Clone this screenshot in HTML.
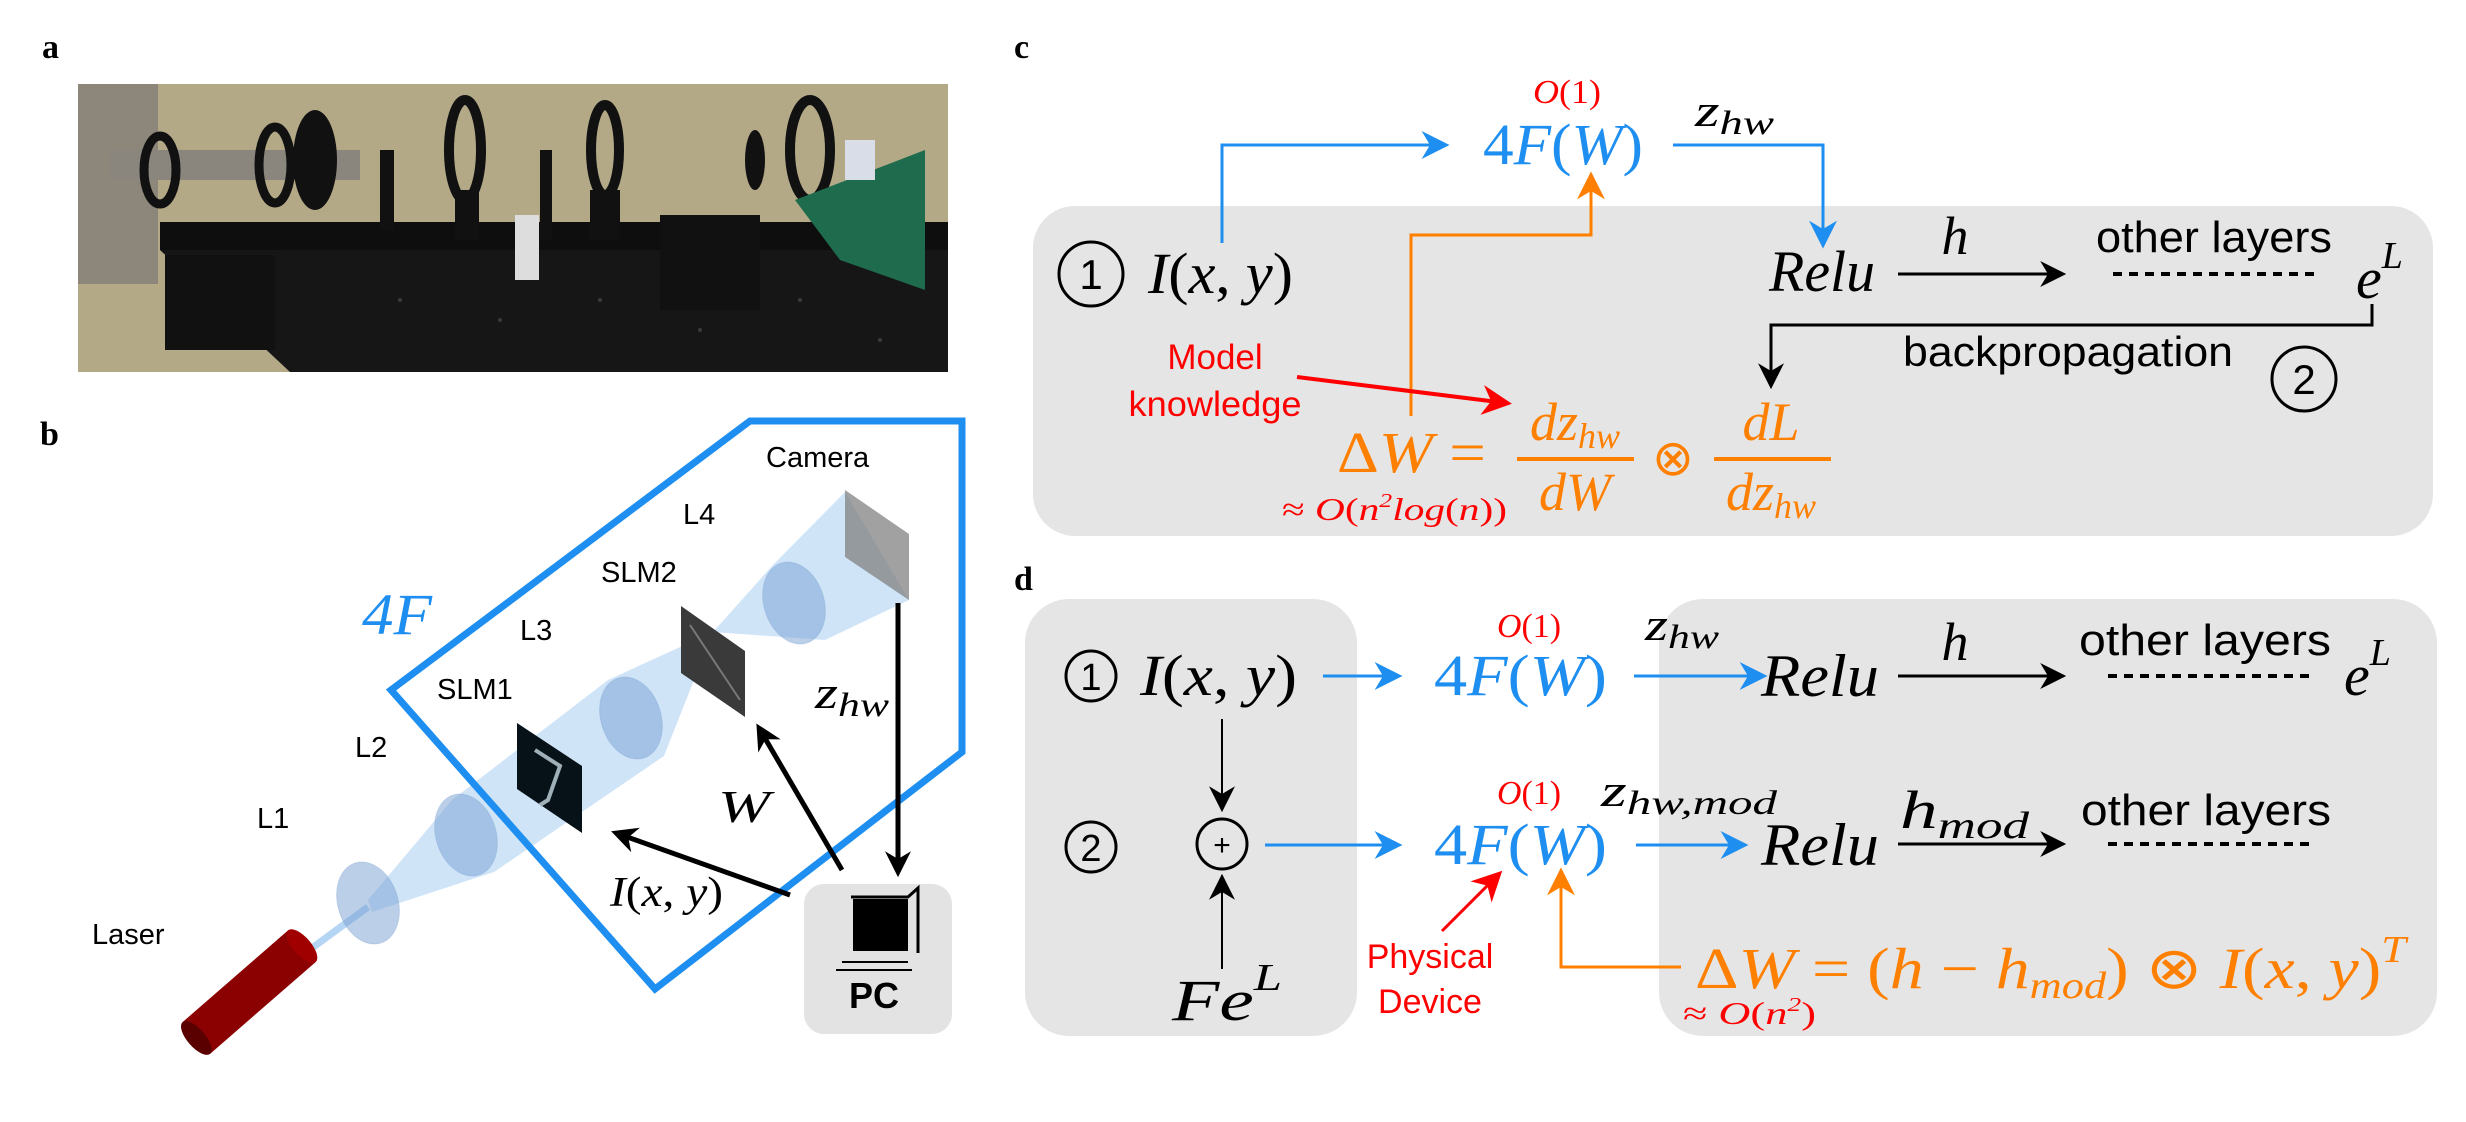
<!DOCTYPE html>
<html><head><meta charset="utf-8"><style>
html,body{margin:0;padding:0;background:#fff;}
svg{display:block;}
.s{font-family:"Liberation Sans",sans-serif;}
.m{font-family:"Liberation Serif",serif;font-style:italic;}
.r{font-family:"Liberation Serif",serif;}
</style></head><body>
<svg width="2466" height="1122" viewBox="0 0 2466 1122" xmlns="http://www.w3.org/2000/svg">
<defs>
<marker id="abk" viewBox="0 0 10 10" refX="8" refY="5" markerWidth="26" markerHeight="26" orient="auto" markerUnits="userSpaceOnUse"><path d="M0,0 L10,5 L0,10 L3,5 z" fill="#000"/></marker>
<marker id="abl" viewBox="0 0 10 10" refX="8" refY="5" markerWidth="28" markerHeight="28" orient="auto" markerUnits="userSpaceOnUse"><path d="M0,0 L10,5 L0,10 L3,5 z" fill="#1e8ff0"/></marker>
<marker id="aor" viewBox="0 0 10 10" refX="8" refY="5" markerWidth="28" markerHeight="28" orient="auto" markerUnits="userSpaceOnUse"><path d="M0,0 L10,5 L0,10 L3,5 z" fill="#ff8000"/></marker>
<marker id="ard" viewBox="0 0 10 10" refX="8" refY="5" markerWidth="30" markerHeight="30" orient="auto" markerUnits="userSpaceOnUse"><path d="M0,0 L10,5 L0,10 L3,5 z" fill="#f00"/></marker>
</defs>

<!-- a -->
<text x="42" y="58" class="r" font-weight="bold" font-size="34">a</text>
<g>
<rect x="78" y="84" width="870" height="288" fill="#b3a987"/>
<rect x="78" y="84" width="80" height="200" fill="#8c877a"/>
<polygon points="160,250 948,242 948,372 290,372" fill="#161616"/>
<g fill="#3a3a3a"><circle cx="400" cy="300" r="2"/><circle cx="500" cy="320" r="2"/><circle cx="600" cy="300" r="2"/><circle cx="700" cy="330" r="2"/><circle cx="800" cy="300" r="2"/><circle cx="880" cy="340" r="2"/></g>
<rect x="160" y="222" width="788" height="28" fill="#0e0e0e"/>
<rect x="110" y="150" width="250" height="30" fill="#8a857d"/>
<rect x="165" y="255" width="110" height="95" fill="#111"/>
<ellipse cx="160" cy="170" rx="16" ry="34" fill="none" stroke="#111" stroke-width="9"/>
<ellipse cx="275" cy="165" rx="16" ry="38" fill="none" stroke="#111" stroke-width="9"/>
<ellipse cx="315" cy="160" rx="22" ry="50" fill="#111"/>
<rect x="380" y="150" width="14" height="80" fill="#111"/>
<ellipse cx="465" cy="150" rx="16" ry="50" fill="none" stroke="#111" stroke-width="10"/>
<rect x="455" y="190" width="24" height="50" fill="#111"/>
<rect x="540" y="150" width="12" height="90" fill="#111"/>
<ellipse cx="605" cy="150" rx="14" ry="45" fill="none" stroke="#111" stroke-width="10"/>
<rect x="590" y="190" width="30" height="50" fill="#111"/>
<rect x="515" y="215" width="24" height="65" fill="#ddd"/>
<rect x="660" y="215" width="100" height="95" fill="#111"/>
<ellipse cx="755" cy="160" rx="10" ry="30" fill="#111"/>
<ellipse cx="810" cy="150" rx="20" ry="50" fill="none" stroke="#111" stroke-width="10"/>
<polygon points="795,200 925,150 925,290 840,260" fill="#1f6b4d"/>
<rect x="845" y="140" width="30" height="40" fill="#d8dde8"/>
</g>

<!-- b -->
<text x="40" y="445" class="r" font-weight="bold" font-size="34">b</text>
<g fill="rgba(150,195,240,0.45)">
<line x1="312" y1="948" x2="368" y2="907" stroke="rgba(150,195,240,0.7)" stroke-width="7"/>
<polygon points="368,900 452,800 494,872 372,912"/>
<polygon points="452,800 608,680 664,756 494,872"/>
<polygon points="608,680 713,632 664,756"/>
<polygon points="713,632 772,566 825,640"/>
<polygon points="772,566 845,492 909,600 825,640"/>
</g>
<g fill="rgba(120,160,210,0.5)" stroke="rgba(120,160,210,0.3)" stroke-width="1">
<ellipse cx="368" cy="903" rx="30" ry="42" transform="rotate(-18 368 903)"/>
<ellipse cx="466" cy="835" rx="30" ry="42" transform="rotate(-18 466 835)"/>
<ellipse cx="631" cy="718" rx="30" ry="42" transform="rotate(-18 631 718)"/>
<ellipse cx="794" cy="603" rx="30" ry="42" transform="rotate(-18 794 603)"/>
</g>
<polygon points="845,490 909,534 909,600 845,557" fill="rgba(130,130,130,0.75)"/>
<polygon points="517,723 582,766 582,833 517,789" fill="#071218"/>
<polyline points="535,750 560,766 548,800 540,805" fill="none" stroke="#9fb0b8" stroke-width="4"/>
<polygon points="681,606 745,651 745,717 681,673" fill="#3a3a3a"/>
<line x1="690" y1="625" x2="740" y2="700" stroke="#777" stroke-width="2"/>
<g transform="rotate(-41 250 990)">
<rect x="178" y="970" width="140" height="42" fill="#8b0000"/>
<ellipse cx="178" cy="991" rx="9" ry="21" fill="#5a0000"/>
<ellipse cx="318" cy="991" rx="9" ry="21" fill="#a00000"/>
</g>
<polygon points="750,421 962,421 962,752 655,989 391,690" fill="none" stroke="#1e8ff0" stroke-width="7"/>
<text x="362" y="634" class="m" font-size="58" fill="#1e8ff0" textLength="70" lengthAdjust="spacingAndGlyphs">4F</text>
<g class="s" font-size="29" fill="#000">
<text x="766" y="467">Camera</text>
<text x="683" y="524">L4</text>
<text x="601" y="582">SLM2</text>
<text x="520" y="640">L3</text>
<text x="437" y="699">SLM1</text>
<text x="355" y="757">L2</text>
<text x="257" y="828">L1</text>
<text x="92" y="944">Laser</text>
</g>
<text x="815" y="708" class="m" font-size="46" textLength="74" lengthAdjust="spacingAndGlyphs">z<tspan font-size="34" dy="8">hw</tspan></text>
<text x="718" y="822" class="m" font-size="46" textLength="52" lengthAdjust="spacingAndGlyphs">W</text>
<text x="610" y="906" class="m" font-size="42" textLength="113" lengthAdjust="spacingAndGlyphs">I<tspan font-style="normal">(</tspan>x<tspan font-style="normal">, </tspan>y<tspan font-style="normal">)</tspan></text>
<line x1="898" y1="603" x2="898" y2="872" stroke="#000" stroke-width="5" marker-end="url(#abk)"/>
<line x1="842" y1="870" x2="759" y2="728" stroke="#000" stroke-width="5" marker-end="url(#abk)"/>
<line x1="790" y1="895" x2="616" y2="833" stroke="#000" stroke-width="5" marker-end="url(#abk)"/>
<rect x="804" y="884" width="148" height="150" rx="20" fill="#e3e3e3"/>
<rect x="853" y="899" width="55" height="52" fill="#000"/>
<polyline points="851,897 908,897 918,888 918,953" fill="none" stroke="#000" stroke-width="3"/>
<line x1="842" y1="962" x2="908" y2="962" stroke="#000" stroke-width="2"/>
<line x1="836" y1="970" x2="912" y2="970" stroke="#000" stroke-width="2"/>
<text x="874" y="1008" class="s" font-weight="bold" font-size="36" text-anchor="middle">PC</text>

<!-- c -->
<text x="1014" y="58" class="r" font-weight="bold" font-size="34">c</text>
<rect x="1033" y="206" width="1400" height="330" rx="42" fill="#e5e5e5"/>
<text x="1533" y="103" class="m" font-size="34" fill="#f00" textLength="68" lengthAdjust="spacingAndGlyphs">O<tspan font-style="normal">(1)</tspan></text>
<text x="1483" y="164" class="m" font-size="58" fill="#1e8ff0" textLength="160" lengthAdjust="spacingAndGlyphs"><tspan font-style="normal">4</tspan>F<tspan font-style="normal">(</tspan>W<tspan font-style="normal">)</tspan></text>
<text x="1695" y="126" class="m" font-size="46" textLength="79" lengthAdjust="spacingAndGlyphs">z<tspan font-size="34" dy="8">hw</tspan></text>
<polyline points="1222,243 1222,145 1444,145" fill="none" stroke="#1e8ff0" stroke-width="3" marker-end="url(#abl)"/>
<polyline points="1673,145 1823,145 1823,243" fill="none" stroke="#1e8ff0" stroke-width="3" marker-end="url(#abl)"/>
<polyline points="1411,416 1411,235 1591,235 1591,177" fill="none" stroke="#ff8000" stroke-width="3" marker-end="url(#aor)"/>
<circle cx="1091" cy="274" r="32" fill="none" stroke="#000" stroke-width="3"/>
<text x="1091" y="289" class="s" font-size="42" text-anchor="middle">1</text>
<text x="1148" y="293" class="m" font-size="58" textLength="145" lengthAdjust="spacingAndGlyphs">I<tspan font-style="normal">(</tspan>x<tspan font-style="normal">, </tspan>y<tspan font-style="normal">)</tspan></text>
<text x="1769" y="291" class="m" font-size="58" textLength="106" lengthAdjust="spacingAndGlyphs">Relu</text>
<line x1="1898" y1="274" x2="2061" y2="274" stroke="#000" stroke-width="3" marker-end="url(#abk)"/>
<text x="1955" y="254" class="m" font-size="54" text-anchor="middle">h</text>
<text x="2096" y="252" class="s" font-size="44" textLength="236" lengthAdjust="spacingAndGlyphs">other layers</text>
<line x1="2113" y1="274" x2="2318" y2="274" stroke="#000" stroke-width="4" stroke-dasharray="9,7"/>
<text x="2356" y="298" class="m" font-size="58">e<tspan font-size="38" dy="-30">L</tspan></text>
<polyline points="2372,304 2372,325 1771,325 1771,384" fill="none" stroke="#000" stroke-width="3" marker-end="url(#abk)"/>
<text x="1903" y="366" class="s" font-size="42" textLength="330" lengthAdjust="spacingAndGlyphs">backpropagation</text>
<circle cx="2304" cy="379" r="32" fill="none" stroke="#000" stroke-width="3"/>
<text x="2304" y="394" class="s" font-size="42" text-anchor="middle">2</text>
<text x="1215" y="369" class="s" font-size="35" fill="#f00" text-anchor="middle">Model</text>
<text x="1215" y="416" class="s" font-size="35" fill="#f00" text-anchor="middle" textLength="173" lengthAdjust="spacingAndGlyphs">knowledge</text>
<line x1="1297" y1="377" x2="1506" y2="403" stroke="#f00" stroke-width="4" marker-end="url(#ard)"/>
<g fill="#ff8000">
<text x="1337" y="472" class="m" font-size="58" textLength="149" lengthAdjust="spacingAndGlyphs"><tspan font-style="normal">Δ</tspan>W <tspan font-style="normal">=</tspan></text>
<text x="1575" y="440" class="m" font-size="54" text-anchor="middle">dz<tspan font-size="36" dy="8">hw</tspan></text>
<rect x="1517" y="457" width="117" height="4"/>
<text x="1575" y="510" class="m" font-size="54" text-anchor="middle">dW</text>
<text x="1673" y="475" class="r" font-size="50" text-anchor="middle">⊗</text>
<text x="1771" y="440" class="m" font-size="54" text-anchor="middle">dL</text>
<rect x="1714" y="457" width="117" height="4"/>
<text x="1771" y="510" class="m" font-size="54" text-anchor="middle">dz<tspan font-size="36" dy="8">hw</tspan></text>
</g>
<text x="1282" y="520" class="m" font-size="32" fill="#f00" textLength="225" lengthAdjust="spacingAndGlyphs"><tspan font-style="normal">≈ </tspan>O<tspan font-style="normal">(</tspan>n<tspan font-size="20" dy="-13">2</tspan><tspan dy="13">log</tspan><tspan font-style="normal">(</tspan>n<tspan font-style="normal">))</tspan></text>

<!-- d -->
<text x="1014" y="590" class="r" font-weight="bold" font-size="34">d</text>
<rect x="1025" y="599" width="332" height="437" rx="44" fill="#e5e5e5"/>
<rect x="1659" y="599" width="778" height="437" rx="44" fill="#e5e5e5"/>
<circle cx="1091" cy="676" r="25" fill="none" stroke="#000" stroke-width="3"/>
<text x="1091" y="690" class="s" font-size="38" text-anchor="middle">1</text>
<text x="1140" y="695" class="m" font-size="58" textLength="157" lengthAdjust="spacingAndGlyphs">I<tspan font-style="normal">(</tspan>x<tspan font-style="normal">, </tspan>y<tspan font-style="normal">)</tspan></text>
<line x1="1323" y1="676" x2="1397" y2="676" stroke="#1e8ff0" stroke-width="3" marker-end="url(#abl)"/>
<text x="1497" y="637" class="m" font-size="34" fill="#f00" textLength="64" lengthAdjust="spacingAndGlyphs">O<tspan font-style="normal">(1)</tspan></text>
<text x="1434" y="695" class="m" font-size="58" fill="#1e8ff0" textLength="173" lengthAdjust="spacingAndGlyphs"><tspan font-style="normal">4</tspan>F<tspan font-style="normal">(</tspan>W<tspan font-style="normal">)</tspan></text>
<text x="1645" y="640" class="m" font-size="46" textLength="74" lengthAdjust="spacingAndGlyphs">z<tspan font-size="34" dy="8">hw</tspan></text>
<line x1="1634" y1="676" x2="1762" y2="676" stroke="#1e8ff0" stroke-width="3" marker-end="url(#abl)"/>
<text x="1761" y="696" class="m" font-size="60" textLength="118" lengthAdjust="spacingAndGlyphs">Relu</text>
<line x1="1898" y1="676" x2="2061" y2="676" stroke="#000" stroke-width="3" marker-end="url(#abk)"/>
<text x="1955" y="660" class="m" font-size="54" text-anchor="middle">h</text>
<text x="2079" y="655" class="s" font-size="44" textLength="252" lengthAdjust="spacingAndGlyphs">other layers</text>
<line x1="2108" y1="676" x2="2314" y2="676" stroke="#000" stroke-width="4" stroke-dasharray="9,7"/>
<text x="2344" y="695" class="m" font-size="58">e<tspan font-size="38" dy="-30">L</tspan></text>
<line x1="1222" y1="719" x2="1222" y2="807" stroke="#000" stroke-width="2" marker-end="url(#abk)"/>
<circle cx="1091" cy="847" r="25" fill="none" stroke="#000" stroke-width="3"/>
<text x="1091" y="861" class="s" font-size="38" text-anchor="middle">2</text>
<circle cx="1222" cy="844" r="25" fill="none" stroke="#000" stroke-width="3"/>
<text x="1222" y="855" class="s" font-size="30" text-anchor="middle">+</text>
<line x1="1265" y1="845" x2="1397" y2="845" stroke="#1e8ff0" stroke-width="3" marker-end="url(#abl)"/>
<text x="1497" y="804" class="m" font-size="34" fill="#f00" textLength="64" lengthAdjust="spacingAndGlyphs">O<tspan font-style="normal">(1)</tspan></text>
<text x="1434" y="864" class="m" font-size="58" fill="#1e8ff0" textLength="173" lengthAdjust="spacingAndGlyphs"><tspan font-style="normal">4</tspan>F<tspan font-style="normal">(</tspan>W<tspan font-style="normal">)</tspan></text>
<text x="1601" y="806" class="m" font-size="46" textLength="176" lengthAdjust="spacingAndGlyphs">z<tspan font-size="34" dy="8">hw,mod</tspan></text>
<line x1="1636" y1="845" x2="1743" y2="845" stroke="#1e8ff0" stroke-width="3" marker-end="url(#abl)"/>
<text x="1761" y="865" class="m" font-size="60" textLength="118" lengthAdjust="spacingAndGlyphs">Relu</text>
<line x1="1898" y1="844" x2="2061" y2="844" stroke="#000" stroke-width="3" marker-end="url(#abk)"/>
<text x="1900" y="828" class="m" font-size="54" textLength="129" lengthAdjust="spacingAndGlyphs">h<tspan font-size="38" dy="10">mod</tspan></text>
<text x="2081" y="825" class="s" font-size="44" textLength="250" lengthAdjust="spacingAndGlyphs">other layers</text>
<line x1="2108" y1="844" x2="2314" y2="844" stroke="#000" stroke-width="4" stroke-dasharray="9,7"/>
<line x1="1222" y1="969" x2="1222" y2="879" stroke="#000" stroke-width="2" marker-end="url(#abk)"/>
<text x="1172" y="1020" class="m" font-size="58" textLength="110" lengthAdjust="spacingAndGlyphs">Fe<tspan font-size="38" dy="-30">L</tspan></text>
<line x1="1442" y1="931" x2="1498" y2="875" stroke="#f00" stroke-width="3" marker-end="url(#ard)"/>
<text x="1430" y="968" class="s" font-size="34" fill="#f00" text-anchor="middle">Physical</text>
<text x="1430" y="1013" class="s" font-size="34" fill="#f00" text-anchor="middle">Device</text>
<polyline points="1681,967 1561,967 1561,873" fill="none" stroke="#ff8000" stroke-width="3" marker-end="url(#aor)"/>
<text x="1695" y="988" class="m" font-size="58" fill="#ff8000" textLength="711" lengthAdjust="spacingAndGlyphs"><tspan font-style="normal">Δ</tspan>W <tspan font-style="normal">= (</tspan>h <tspan font-style="normal">−</tspan> h<tspan font-size="38" dy="10">mod</tspan><tspan dy="-10" font-style="normal">) ⊗ </tspan>I<tspan font-style="normal">(</tspan>x<tspan font-style="normal">, </tspan>y<tspan font-style="normal">)</tspan><tspan font-size="38" dy="-26">T</tspan></text>
<text x="1683" y="1024" class="m" font-size="32" fill="#f00" textLength="133" lengthAdjust="spacingAndGlyphs"><tspan font-style="normal">≈ </tspan>O<tspan font-style="normal">(</tspan>n<tspan font-size="20" dy="-13">2</tspan><tspan dy="13" font-style="normal">)</tspan></text>
</svg>
</body></html>
